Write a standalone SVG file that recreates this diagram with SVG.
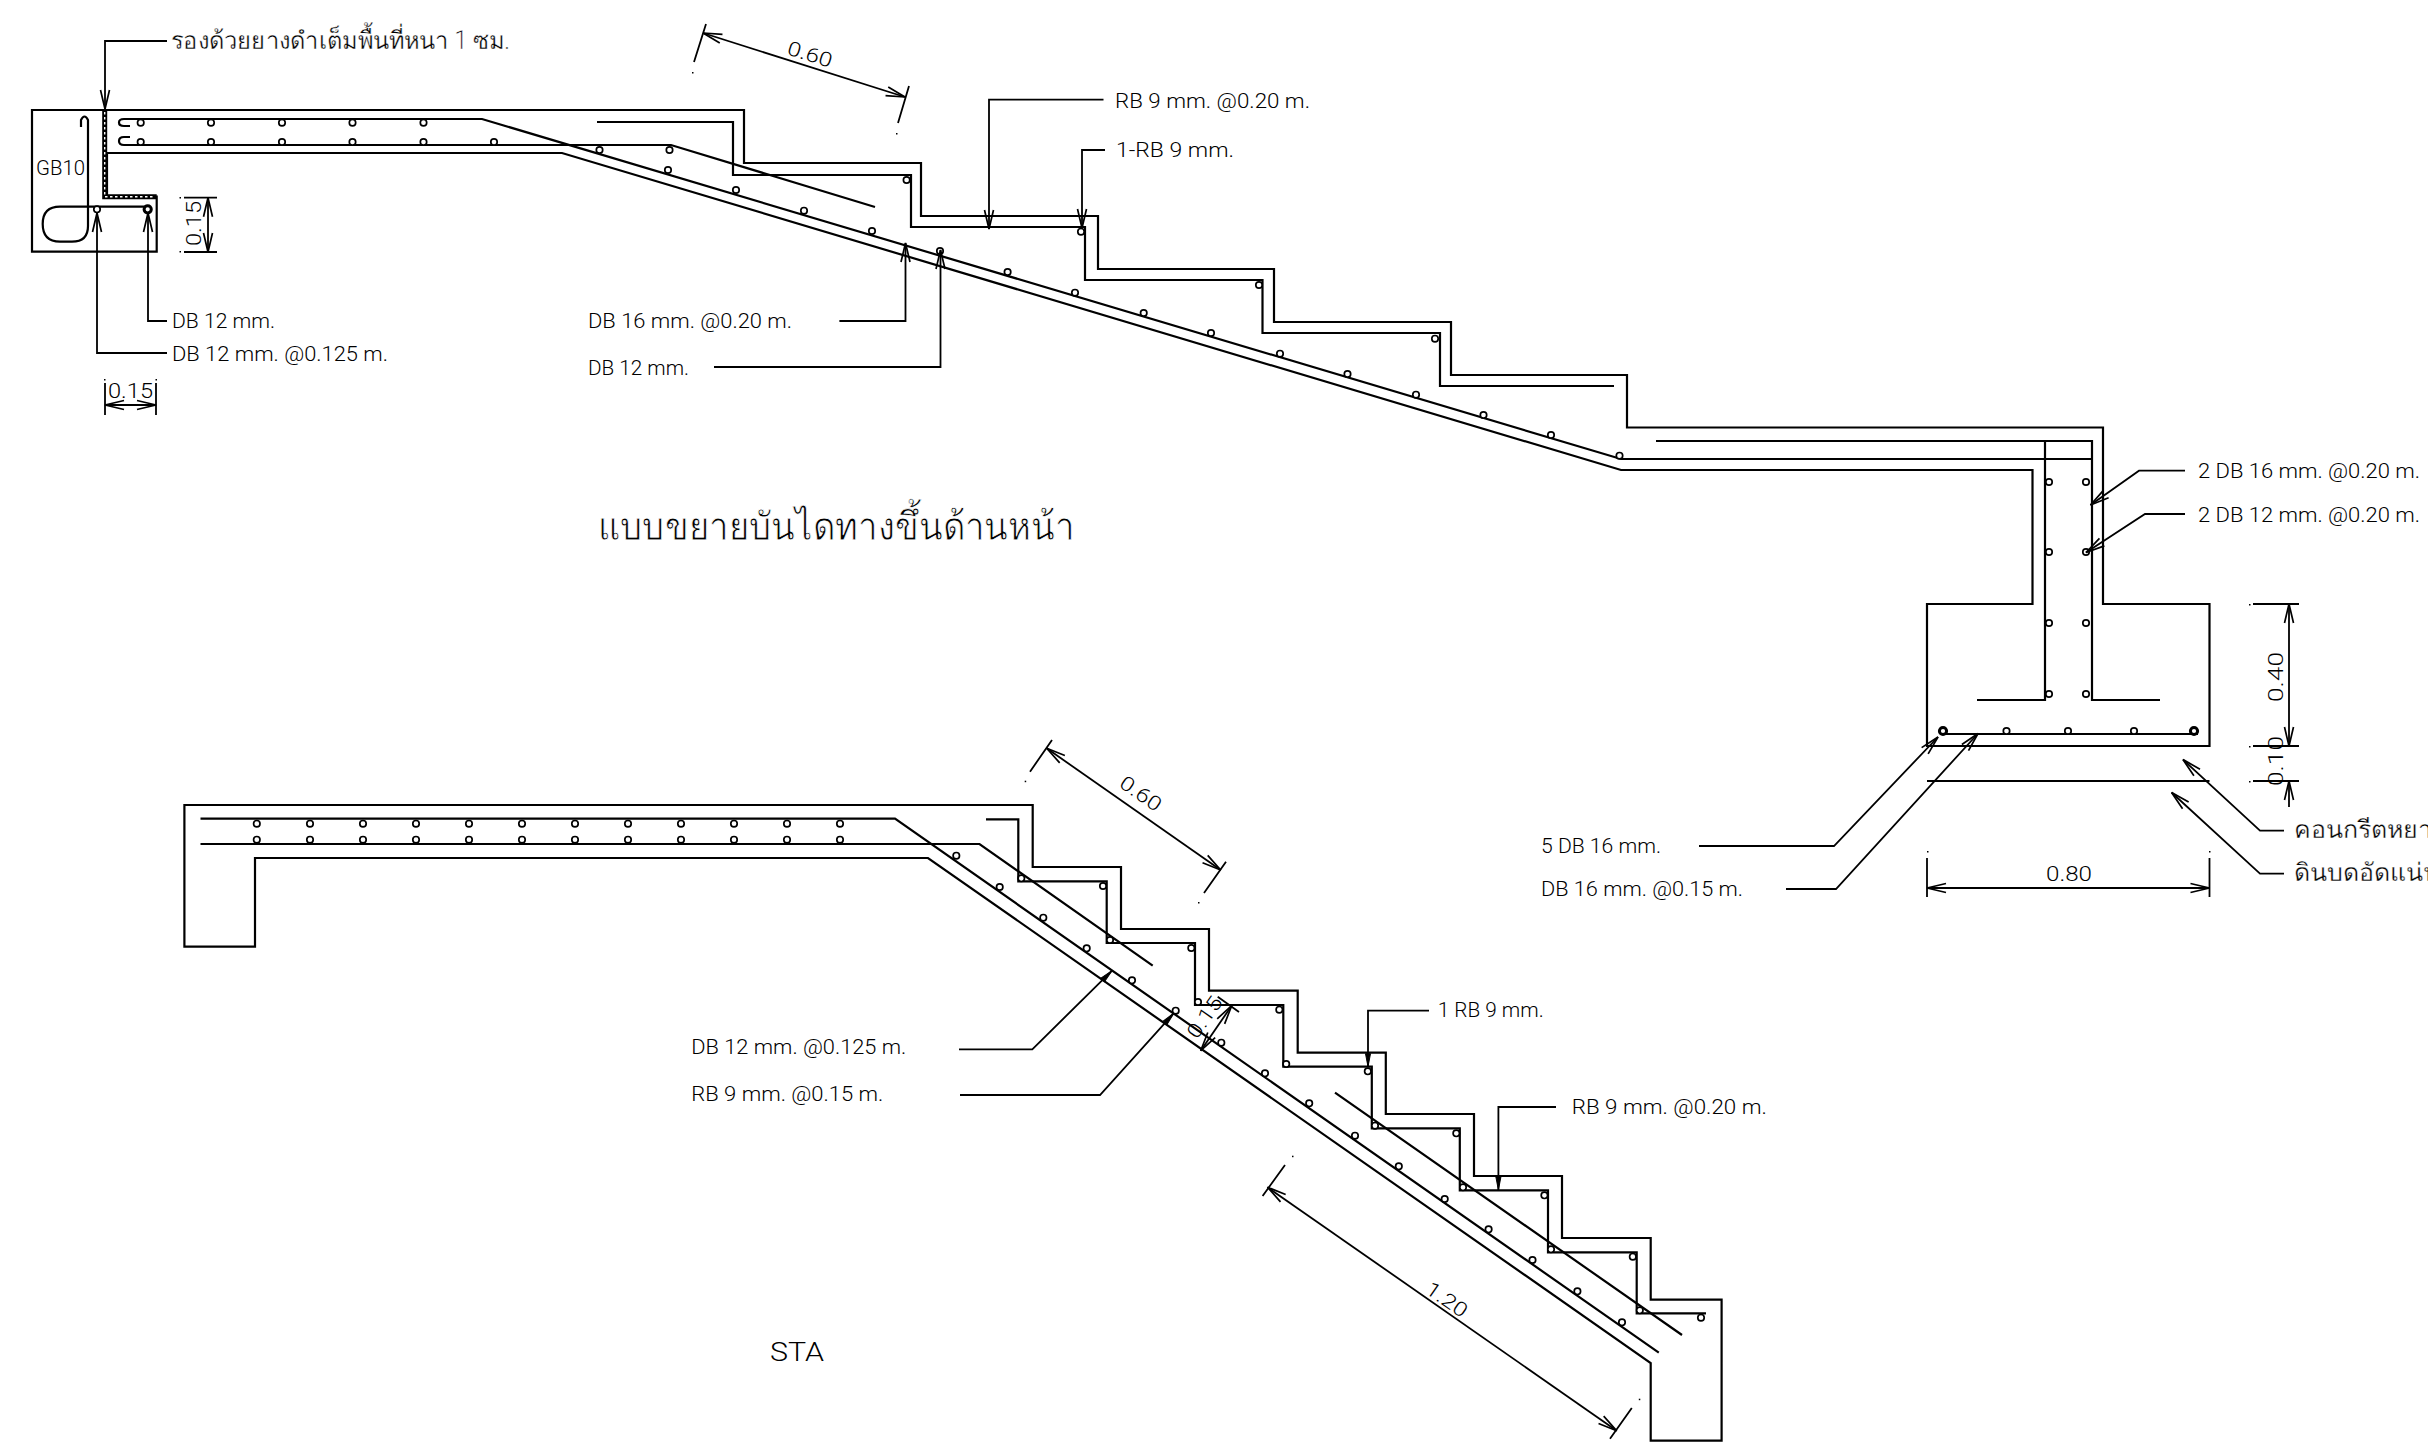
<svg xmlns="http://www.w3.org/2000/svg" width="2428" height="1442" viewBox="0 0 2428 1442">
<style>
.l{fill:none;stroke:#000;stroke-width:2.2;stroke-linejoin:miter}
.a{fill:none;stroke:#000;stroke-width:1.8;marker-end:url(#ah)}
.d{fill:none;stroke:#000;stroke-width:1.8;marker-start:url(#ah);marker-end:url(#ah)}
.s{fill:none;stroke:#000;stroke-width:1.8;marker-end:url(#ahs)}
.e{fill:none;stroke:#000;stroke-width:1.8}
.p{fill:#000}
text{font-family:"Roboto","Liberation Sans","Noto Sans",sans-serif;font-weight:300;font-size:20px;fill:#000}
.b{font-size:26px}
.th{font-size:25px;stroke:#fff;stroke-width:.35;paint-order:fill}
.tt{font-size:39px;stroke:#fff;stroke-width:.8;paint-order:fill}
circle{fill:#fff;stroke:#000;stroke-width:1.7}
circle.h{stroke-width:3}
</style>
<defs>
<marker id="ah" markerUnits="userSpaceOnUse" markerWidth="22" markerHeight="14" refX="20" refY="7" orient="auto-start-reverse" viewBox="0 0 22 14"><path d="M1 2.500L20 7L1 11.500" fill="none" stroke="#000" stroke-width="1.700"/></marker>
<marker id="ahs" markerUnits="userSpaceOnUse" markerWidth="16" markerHeight="10" refX="14" refY="5" orient="auto" viewBox="0 0 16 10"><path d="M1 2.500L14 5L1 7.500Z" fill="#000" stroke="#000" stroke-width="1"/></marker>
</defs>

<g id="upper-stair-concrete">
<path class="l" d="M32 110H744V163H921V216H1098V269H1274V322H1451V375H1627V427.500H2103V604H2209.500V746H1927V604H2032.500V470H1621L562 153H107V196.700H156.700V251.700H32Z"/>
<path class="l" d="M1927 781H2209.500"/>
</g>
<g id="waterproof-membrane">
<path d="M104.700 110V196.700H156.700" fill="none" stroke="#000" stroke-width="5"/>
<path d="M104.700 112V196.700H155" fill="none" stroke="#fff" stroke-width="1.400" stroke-dasharray="2.500 2.500"/>
</g>
<g id="upper-stair-rebar">
<path class="l" d="M130 126H124Q119 126 119 122.500Q119 119 124 119H482L1621 459H2093"/>
<path class="l" d="M130 137H124Q119 137 119 141Q119 145 124 145H671L875 207"/>
<path class="l" d="M597 122H733V175H911V227H1085V280H1262.500V333H1440V386H1614"/>
<path class="l" d="M1656 441H2092V700H2160M2045 441V700H1977"/>
<path class="l" d="M1944 734H2198"/>
<path class="l" d="M81 127V120Q84.500 113 88 120V226Q88 241.700 72 241.700H60Q42.700 241.700 42.700 224Q42.700 206.700 60 206.700H147.700"/>
</g>
<g id="upper-stair-bars">
<circle cx="140.700" cy="122.700" r="3.200"/><circle cx="211" cy="122.700" r="3.200"/><circle cx="282" cy="122.700" r="3.200"/><circle cx="352.500" cy="122.700" r="3.200"/><circle cx="423.500" cy="122.700" r="3.200"/>
<circle cx="140.700" cy="142" r="3.200"/><circle cx="211" cy="142" r="3.200"/><circle cx="282" cy="142" r="3.200"/><circle cx="352.500" cy="142" r="3.200"/><circle cx="423.500" cy="142" r="3.200"/><circle cx="494" cy="142" r="3.200"/>
<circle cx="599.500" cy="150" r="3.200"/><circle cx="669.500" cy="150" r="3.200"/><circle cx="668" cy="170" r="3.200"/><circle cx="736" cy="190" r="3.200"/><circle cx="804" cy="210.700" r="3.200"/><circle cx="872" cy="231" r="3.200"/><circle cx="940" cy="251" r="3.200"/><circle cx="1007.600" cy="272" r="3.200"/><circle cx="1075" cy="292.700" r="3.200"/><circle cx="1143.700" cy="313" r="3.200"/><circle cx="1211" cy="333" r="3.200"/><circle cx="1280" cy="353.700" r="3.200"/><circle cx="1347.500" cy="374" r="3.200"/><circle cx="1416" cy="394.700" r="3.200"/><circle cx="1483.500" cy="415" r="3.200"/><circle cx="1551" cy="435" r="3.200"/><circle cx="1619.500" cy="455.700" r="3.200"/>
<circle cx="906.600" cy="180" r="3.200"/><circle cx="1081" cy="231.700" r="3.200"/><circle cx="1259" cy="285" r="3.200"/><circle cx="1435" cy="338.700" r="3.200"/>
<circle cx="97" cy="209.300" r="3.200"/><circle class="h" cx="147.700" cy="209.300" r="3.600"/>
<circle cx="2049" cy="482" r="3.200"/><circle cx="2086" cy="482" r="3.200"/><circle cx="2049" cy="552" r="3.200"/><circle cx="2086" cy="552" r="3.200"/><circle cx="2049" cy="623" r="3.200"/><circle cx="2086" cy="623" r="3.200"/><circle cx="2049" cy="694" r="3.200"/><circle cx="2086" cy="694" r="3.200"/>
<circle class="h" cx="1943" cy="731" r="3.600"/><circle cx="2006.500" cy="731" r="3.200"/><circle cx="2068" cy="731" r="3.200"/><circle cx="2134" cy="731" r="3.200"/><circle class="h" cx="2194" cy="731" r="3.600"/>
</g>

<g id="lower-stair-concrete">
<path class="l" d="M184.400 805H1032.700V867H1121V929H1209V990.700H1297.700V1052.700H1385.800V1114H1474V1176H1562V1238H1650.700V1299.700H1721.600V1440.700H1650.700V1363L928 858H255V946.700H184.400Z"/>
</g>
<g id="lower-stair-rebar">
<path class="l" d="M200.500 818.700H895L1658.800 1352.700"/>
<path class="l" d="M200.500 844H979.500L1152.700 965.700M1335 1092.700L1682 1335"/>
<path class="l" d="M986 819.300H1018.300V881.300H1106.700V943H1195V1005H1283.300V1066.700H1371.800V1128.300H1459.800V1190.300H1548V1252.300H1636.700V1313.300H1706"/>
</g>
<g id="lower-stair-bars">
<circle cx="256.800" cy="823.700" r="3.200"/><circle cx="310" cy="823.700" r="3.200"/><circle cx="363" cy="823.700" r="3.200"/><circle cx="416" cy="823.700" r="3.200"/><circle cx="469" cy="823.700" r="3.200"/><circle cx="522" cy="823.700" r="3.200"/><circle cx="575" cy="823.700" r="3.200"/><circle cx="628" cy="823.700" r="3.200"/><circle cx="681" cy="823.700" r="3.200"/><circle cx="734" cy="823.700" r="3.200"/><circle cx="787" cy="823.700" r="3.200"/><circle cx="840" cy="823.700" r="3.200"/>
<circle cx="256.800" cy="839.700" r="3.200"/><circle cx="310" cy="839.700" r="3.200"/><circle cx="363" cy="839.700" r="3.200"/><circle cx="416" cy="839.700" r="3.200"/><circle cx="469" cy="839.700" r="3.200"/><circle cx="522" cy="839.700" r="3.200"/><circle cx="575" cy="839.700" r="3.200"/><circle cx="628" cy="839.700" r="3.200"/><circle cx="681" cy="839.700" r="3.200"/><circle cx="734" cy="839.700" r="3.200"/><circle cx="787" cy="839.700" r="3.200"/><circle cx="840" cy="839.700" r="3.200"/>
<circle cx="956.300" cy="855.700" r="3.200"/><circle cx="999.700" cy="887" r="3.200"/><circle cx="1043.300" cy="917.700" r="3.200"/><circle cx="1086.700" cy="948.300" r="3.200"/><circle cx="1132" cy="980.300" r="3.200"/><circle cx="1175.700" cy="1010.700" r="3.200"/><circle cx="1221.300" cy="1042.700" r="3.200"/><circle cx="1265" cy="1073.300" r="3.200"/><circle cx="1309.200" cy="1103.300" r="3.200"/><circle cx="1355" cy="1135.700" r="3.200"/><circle cx="1398.800" cy="1166.300" r="3.200"/><circle cx="1444.700" cy="1199" r="3.200"/><circle cx="1488.600" cy="1229.300" r="3.200"/><circle cx="1532.500" cy="1260" r="3.200"/><circle cx="1577.400" cy="1291.300" r="3.200"/><circle cx="1622" cy="1322.300" r="3.200"/>
<circle cx="1021.300" cy="878.300" r="3.200"/><circle cx="1103" cy="886" r="3.200"/><circle cx="1110" cy="940" r="3.200"/><circle cx="1191.300" cy="948" r="3.200"/><circle cx="1198" cy="1002" r="3.200"/><circle cx="1279.300" cy="1009.700" r="3.200"/><circle cx="1286.200" cy="1064" r="3.200"/><circle cx="1367.800" cy="1071.300" r="3.200"/><circle cx="1375" cy="1125.700" r="3.200"/><circle cx="1456.300" cy="1133.300" r="3.200"/><circle cx="1463" cy="1187.300" r="3.200"/><circle cx="1544.400" cy="1195.300" r="3.200"/><circle cx="1551" cy="1249.300" r="3.200"/><circle cx="1632.800" cy="1256.700" r="3.200"/><circle cx="1639.800" cy="1310.300" r="3.200"/><circle cx="1701" cy="1317.700" r="3.200"/>
</g>

<g id="connectors">
<path class="a" d="M167 41H105V109"/>
<path class="a" d="M167 321H148V213"/>
<path class="a" d="M167 353H97V213"/>
<path class="a" d="M1103.500 99.700H989V229"/>
<path class="a" d="M1105 150H1082V228"/>
<path class="a" d="M839.400 321H905.500V243"/>
<path class="a" d="M714 367H940.500V250"/>
<path class="a" d="M2185 470.700H2139L2090.500 505"/>
<path class="a" d="M2185 514H2145L2086 552.500"/>
<path class="a" d="M1699 846H1834L1938 737"/>
<path class="a" d="M1786 889H1836L1978 733.500"/>
<path class="a" d="M2284 830.700H2260L2183 759.600"/>
<path class="a" d="M2284 873.600H2260L2171.600 792.500"/>
<path class="s" d="M959 1049.300H1032.300L1112 970.700"/>
<path class="s" d="M960 1095H1100L1174 1013"/>
<path class="s" d="M1429 1010.700H1368V1066.700"/>
<path class="s" d="M1556 1107H1498.400V1190"/>
</g>
<g id="dimensions">
<path class="e" d="M184 197.700H217M184 252H217"/><path class="d" d="M208 197.700V252"/>
<path class="e" d="M105 383V415M156 383V415"/><path class="d" d="M105 405H156"/>
<path class="e" d="M694 62L706 24M898 123L909 86"/><path class="d" d="M703 33L905 97"/>
<path class="e" d="M2253 604H2299M2253 746H2299M2253 781H2299"/><path class="d" d="M2289 604V746"/><path class="a" d="M2289 807V781"/>
<path class="e" d="M1927 858V897M2209.500 858V897"/><path class="d" d="M1927 888H2209.500"/>
<path class="e" d="M1030 771.700L1052 740M1204 893L1226 861.700"/><path class="d" d="M1046.700 748.300L1220.700 870"/>
<path class="e" d="M1217.700 996.700L1239 1012"/><path class="d" d="M1231.700 1005.700L1200.700 1050.700"/>
<path class="e" d="M1285 1165L1262.600 1196M1631.800 1408L1610 1438.700"/><path class="d" d="M1267.500 1187.300L1616.700 1430.700"/>
<g class="p"><rect x="179.500" y="197" width="1.500" height="1.500"/><rect x="179.500" y="251" width="1.500" height="1.500"/><rect x="104" y="379" width="1.500" height="1.500"/><rect x="155.500" y="379" width="1.500" height="1.500"/><rect x="692" y="72" width="1.500" height="1.500"/><rect x="896" y="133" width="1.500" height="1.500"/><rect x="2249" y="604" width="1.500" height="1.500"/><rect x="2249" y="746" width="1.500" height="1.500"/><rect x="2249" y="781" width="1.500" height="1.500"/><rect x="1927" y="851" width="1.500" height="1.500"/><rect x="2209" y="851" width="1.500" height="1.500"/><rect x="1024.700" y="780.700" width="1.500" height="1.500"/><rect x="1198" y="902" width="1.500" height="1.500"/><rect x="1292" y="1155.700" width="1.500" height="1.500"/><rect x="1638.800" y="1398.700" width="1.500" height="1.500"/></g>
</g>
<g id="labels">
<text class="th" x="171" y="49" textLength="339" lengthAdjust="spacingAndGlyphs">รองด้วยยางดำเต็มพื้นที่หนา 1 ซม.</text>
<text x="36" y="175" textLength="49" lengthAdjust="spacingAndGlyphs">GB10</text>
<text x="172" y="328" textLength="103" lengthAdjust="spacingAndGlyphs">DB 12 mm.</text>
<text x="172" y="361" textLength="216" lengthAdjust="spacingAndGlyphs">DB 12 mm. @0.125 m.</text>
<text x="108" y="398" textLength="45" lengthAdjust="spacingAndGlyphs">0.15</text>
<text transform="translate(201 246) rotate(-90)" textLength="45" lengthAdjust="spacingAndGlyphs">0.15</text>
<text x="588" y="328" textLength="204" lengthAdjust="spacingAndGlyphs">DB 16 mm. @0.20 m.</text>
<text x="588" y="375" textLength="101" lengthAdjust="spacingAndGlyphs">DB 12 mm.</text>
<text transform="translate(786 54) rotate(17.500)" textLength="46" lengthAdjust="spacingAndGlyphs">0.60</text>
<text x="1115" y="108" textLength="195" lengthAdjust="spacingAndGlyphs">RB 9 mm. @0.20 m.</text>
<text x="1116" y="157" textLength="118" lengthAdjust="spacingAndGlyphs">1-RB 9 mm.</text>
<text class="tt" x="598" y="540" textLength="477" lengthAdjust="spacingAndGlyphs">แบบขยายบันไดทางขึ้นด้านหน้า</text>
<text x="2198" y="478" textLength="222" lengthAdjust="spacingAndGlyphs">2 DB 16 mm. @0.20 m.</text>
<text x="2198" y="522" textLength="222" lengthAdjust="spacingAndGlyphs">2 DB 12 mm. @0.20 m.</text>
<text transform="translate(2283 702) rotate(-90)" textLength="50" lengthAdjust="spacingAndGlyphs">0.40</text>
<text transform="translate(2283 786) rotate(-90)" textLength="50" lengthAdjust="spacingAndGlyphs">0.10</text>
<text x="1541" y="853" textLength="120" lengthAdjust="spacingAndGlyphs">5 DB 16 mm.</text>
<text x="1541" y="896" textLength="202" lengthAdjust="spacingAndGlyphs">DB 16 mm. @0.15 m.</text>
<text class="th" x="2294" y="838">คอนกรีตหยาบ</text>
<text class="th" x="2294" y="881">ดินบดอัดแน่น</text>
<text x="2046" y="881" textLength="46" lengthAdjust="spacingAndGlyphs">0.80</text>
<text x="691.300" y="1054.300" textLength="215" lengthAdjust="spacingAndGlyphs">DB 12 mm. @0.125 m.</text>
<text x="691.300" y="1101" textLength="192" lengthAdjust="spacingAndGlyphs">RB 9 mm. @0.15 m.</text>
<text transform="translate(1118 786) rotate(35)" textLength="46" lengthAdjust="spacingAndGlyphs">0.60</text>
<text transform="translate(1197 1040) rotate(-55)" textLength="46" lengthAdjust="spacingAndGlyphs">0.15</text>
<text transform="translate(1424 1292) rotate(35)" textLength="46" lengthAdjust="spacingAndGlyphs">1.20</text>
<text x="1437.700" y="1017" textLength="106" lengthAdjust="spacingAndGlyphs">1 RB 9 mm.</text>
<text x="1571.800" y="1114" textLength="195" lengthAdjust="spacingAndGlyphs">RB 9 mm. @0.20 m.</text>
<text class="b" x="770" y="1361" textLength="54" lengthAdjust="spacingAndGlyphs">STA</text>
</g>
</svg>
